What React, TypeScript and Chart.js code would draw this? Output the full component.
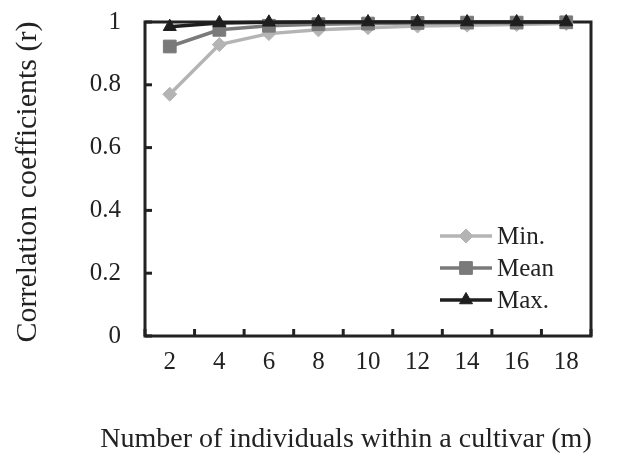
import React, { useEffect, useRef } from 'react';
import { Chart, registerables } from 'chart.js';
import { drawPoint } from 'chart.js/helpers';

Chart.register(...registerables);

const categories = ['2', '4', '6', '8', '10', '12', '14', '16', '18'];
const minValues = [0.77, 0.928, 0.963, 0.975, 0.982, 0.987, 0.99, 0.992, 0.995];
const meanValues = [0.922, 0.975, 0.988, 0.993, 0.995, 0.997, 0.998, 0.998, 0.999];
const maxValues = [0.985, 0.997, 0.999, 1, 1, 1, 1, 1, 1];
const yTicks = [0, 0.2, 0.4, 0.6, 0.8, 1];
const seriesNames = ['Min.', 'Mean', 'Max.'];
const xTitle = 'Number of individuals within a cultivar (m)';
const yTitle = 'Correlation coefficients (r)';

const FONT = "'Liberation Serif', 'Times New Roman', serif";
const INK = '#222222';
const COLORS = ['#b4b4b4', '#7a7a7a', '#1e1e1e'];
const STYLES = ['rectRot', 'rect', 'triangle'];
const RADII = [7, 9, 7.5];

const framePlugin = {
  id: 'frame',
  beforeDatasetsDraw(chart: any) {
    const { ctx, chartArea: a, scales } = chart;
    ctx.save();
    ctx.strokeStyle = INK;
    ctx.lineWidth = 3;
    ctx.strokeRect(a.left, a.top, a.right - a.left, a.bottom - a.top);
    const y = scales.y;
    yTicks.forEach((v) => {
      const py = y.getPixelForValue(v);
      ctx.beginPath();
      ctx.moveTo(a.left, py);
      ctx.lineTo(a.left + 7, py);
      ctx.stroke();
    });
    const x = scales.x;
    for (let i = 0; i <= categories.length; i++) {
      const px = x.getPixelForValue(i - 0.5);
      ctx.beginPath();
      ctx.moveTo(px, a.bottom);
      ctx.lineTo(px, a.bottom - 7);
      ctx.stroke();
    }
    ctx.restore();
  },
};

const titlesPlugin = {
  id: 'axisTitles',
  afterDraw(chart: any) {
    const { ctx } = chart;
    ctx.save();
    ctx.fillStyle = INK;
    ctx.font = `28px ${FONT}`;
    ctx.textAlign = 'center';
    ctx.textBaseline = 'middle';
    ctx.fillText(xTitle, 346, 440);
    ctx.translate(28, 182);
    ctx.rotate(-Math.PI / 2);
    ctx.font = `30px ${FONT}`;
    ctx.fillText(yTitle, 0, 0);
    ctx.restore();
  },
};

const legendPlugin = {
  id: 'innerLegend',
  afterDraw(chart: any) {
    const { ctx } = chart;
    const ds = chart.data.datasets;
    ctx.save();
    const x0 = 440;
    const x1 = 492;
    const ys = [236, 268, 300];
    ds.forEach((d: any, i: number) => {
      const yy = ys[i];
      ctx.strokeStyle = d.borderColor;
      ctx.lineWidth = d.borderWidth;
      ctx.beginPath();
      ctx.moveTo(x0, yy);
      ctx.lineTo(x1, yy);
      ctx.stroke();
      ctx.fillStyle = d.pointBackgroundColor;
      ctx.strokeStyle = d.pointBorderColor;
      ctx.lineWidth = 1;
      drawPoint(ctx, { pointStyle: d.pointStyle, radius: d.pointRadius, rotation: 0, borderWidth: 1 } as any, (x0 + x1) / 2, yy);
      ctx.fillStyle = INK;
      ctx.font = `25px ${FONT}`;
      ctx.textAlign = 'left';
      ctx.textBaseline = 'middle';
      ctx.fillText(d.label, 497, yy + 1);
    });
    ctx.restore();
  },
};

export default function App() {
  const ref = useRef<HTMLCanvasElement | null>(null);

  useEffect(() => {
    if (!ref.current) return;
    const series = [minValues, meanValues, maxValues];
    const chart = new Chart(ref.current, {
      type: 'line',
      data: {
        labels: categories,
        datasets: series.map((vals, i) => ({
          label: seriesNames[i],
          data: vals,
          borderColor: COLORS[i],
          backgroundColor: COLORS[i],
          pointBackgroundColor: COLORS[i],
          pointBorderColor: COLORS[i],
          pointBorderWidth: 1,
          borderWidth: 3.5,
          pointStyle: STYLES[i],
          pointRadius: RADII[i],
          pointHoverRadius: RADII[i],
          tension: 0,
          fill: false,
          clip: false as any,
          order: 3 - i,
        })),
      },
      options: {
        animation: false,
        responsive: false,
        events: [],
        layout: { padding: { top: 22, right: 39, left: 0, bottom: 0 } },
        plugins: {
          legend: { display: false },
          tooltip: { enabled: false },
          title: { display: false },
        },
        scales: {
          x: {
            type: 'category',
            offset: true,
            grid: { display: false, drawTicks: false },
            border: { display: false },
            ticks: {
              color: INK,
              font: { family: FONT, size: 25 },
              padding: 11,
              maxRotation: 0,
              autoSkip: false,
            },
            title: { display: false },
            afterFit(scale: any) {
              scale.height = 119;
              scale.paddingLeft = 0;
              scale.paddingRight = 0;
            },
          },
          y: {
            min: 0,
            max: 1,
            afterBuildTicks(scale: any) {
              scale.ticks = yTicks.map((v) => ({ value: v }));
            },
            grid: { display: false, drawTicks: false },
            border: { display: false },
            ticks: {
              color: INK,
              font: { family: FONT, size: 25 },
              padding: 24,
              callback: (v: any) => String(Number(v)),
            },
            title: { display: false },
            afterFit(scale: any) {
              scale.width = 145;
              scale.paddingTop = 0;
              scale.paddingBottom = 0;
            },
          },
        },
      },
      plugins: [framePlugin, titlesPlugin, legendPlugin],
    });
    return () => chart.destroy();
  }, []);

  return (
    <div style={{ position: 'absolute', left: 0, top: 0, width: 630, height: 455, background: '#fff' }}>
      <canvas ref={ref} width={630} height={455} style={{ display: 'block', width: 630, height: 455 }} />
    </div>
  );
}
